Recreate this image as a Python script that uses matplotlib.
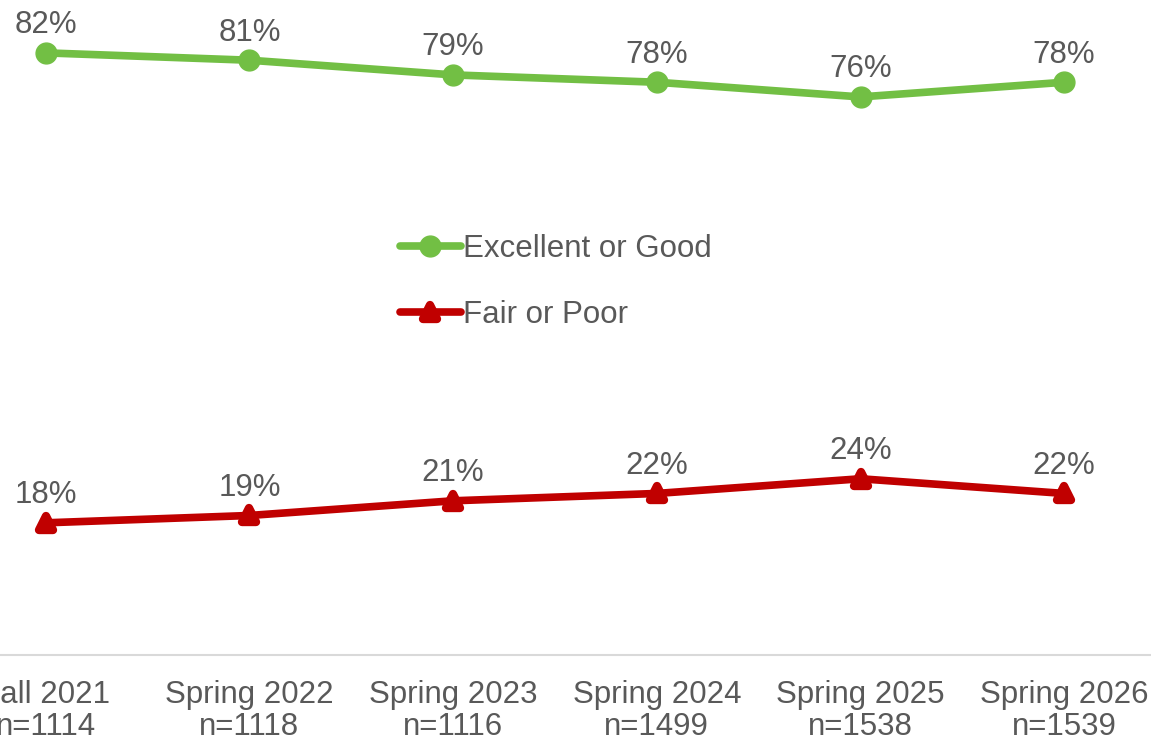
import matplotlib.pyplot as plt
from matplotlib.markers import MarkerStyle

periods = ["Fall 2021", "Spring 2022", "Spring 2023", "Spring 2024", "Spring 2025", "Spring 2026"]
sample_sizes = [1114, 1118, 1116, 1499, 1538, 1539]
excellent_good = [82, 81, 79, 78, 76, 78]
fair_poor = [18, 19, 21, 22, 24, 22]

green = "#72BF44"
red = "#C00000"
grey = "#595959"

plt.rcParams["font.family"] = ["Liberation Sans", "DejaVu Sans"]

fig = plt.figure(figsize=(11.51, 7.41), dpi=100)
# plot area runs a little past the left/right edges of the canvas
ax = fig.add_axes([-56 / 1151, 86 / 741, 1222 / 1151, 655 / 741])

x = list(range(len(periods)))
ax.plot(x, excellent_good, color=green, lw=5.5, marker="o", ms=15,
        solid_capstyle="round", label="Excellent or Good")
tri = MarkerStyle("^", joinstyle="round")
ax.plot(x, fair_poor, color=red, lw=5.5, marker=tri, ms=10, mew=6,
        solid_capstyle="round", label="Fair or Poor")

for xi, v in zip(x, excellent_good):
    ax.annotate(f"{v}%", (xi, v), xytext=(0, 9), textcoords="offset points",
                ha="center", va="bottom", fontsize=22.5, color=grey)
for xi, v in zip(x, fair_poor):
    ax.annotate(f"{v}%", (xi, v), xytext=(0, 9), textcoords="offset points",
                ha="center", va="bottom", fontsize=22.5, color=grey)

ax.set_xlim(-0.5, len(periods) - 0.5)
ax.set_ylim(0, 89.2)
ax.set_xticks(x)
ax.set_xticklabels([f"{p}\nn={n}" for p, n in zip(periods, sample_sizes)],
                   fontsize=22.5, color=grey, linespacing=1.08)
ax.tick_params(axis="x", length=0, pad=18)
ax.set_yticks([])
for side in ["top", "left", "right"]:
    ax.spines[side].set_visible(False)
ax.spines["bottom"].set_color("#D9D9D9")
ax.spines["bottom"].set_linewidth(1.5)

leg = fig.legend(loc="center left", bbox_to_anchor=(400 / 1151, 1 - 282 / 741),
                 frameon=False, fontsize=22.5, handlelength=1.95, handletextpad=0.08,
                 labelspacing=1.15, borderpad=0, borderaxespad=0)
for t in leg.get_texts():
    t.set_color(grey)

fig.savefig("out.png", dpi=100)
